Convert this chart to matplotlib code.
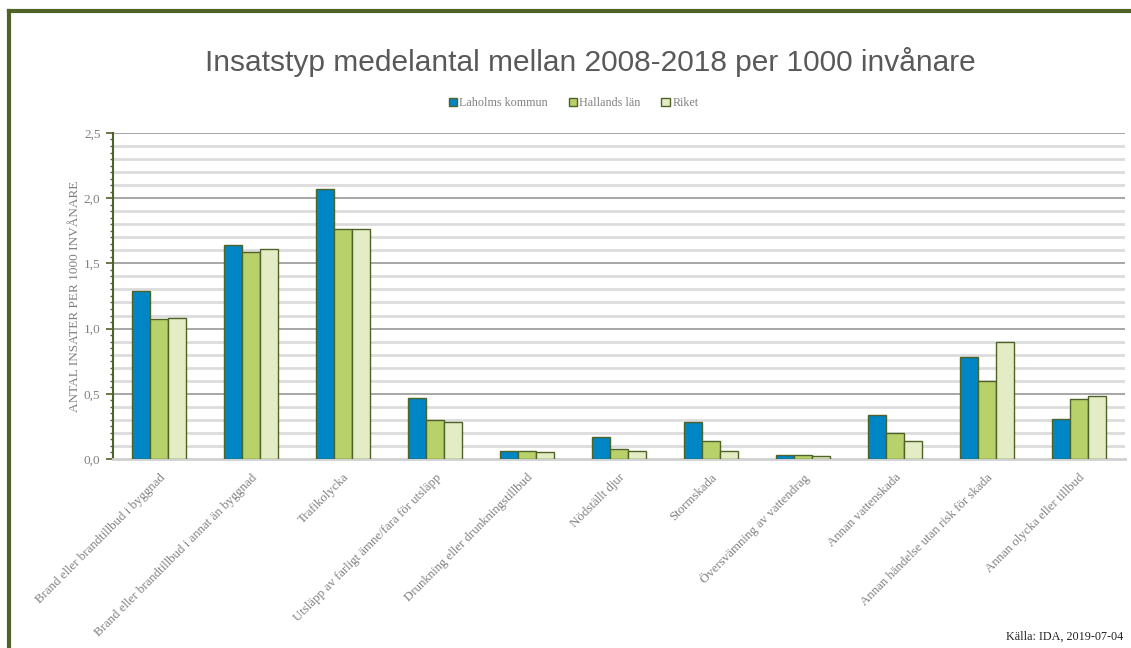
import matplotlib
matplotlib.use("Agg")
import matplotlib.pyplot as plt
import numpy as np
from matplotlib.ticker import MultipleLocator, FuncFormatter
from matplotlib.patches import Patch
from matplotlib.lines import Line2D

categories = [
    "Brand eller brandtillbud i byggnad",
    "Brand eller brandtillbud i annat än byggnad",
    "Trafikolycka",
    "Utsläpp av farligt ämne/fara för utsläpp",
    "Drunkning eller drunkningstillbud",
    "Nödställt djur",
    "Stormskada",
    "Översvämning av vattendrag",
    "Annan vattenskada",
    "Annan händelse utan risk för skada",
    "Annan olycka eller tillbud",
]
laholm = [1.29, 1.64, 2.07, 0.47, 0.06, 0.17, 0.28, 0.03, 0.34, 0.78, 0.31]
halland = [1.07, 1.59, 1.76, 0.30, 0.06, 0.08, 0.14, 0.03, 0.20, 0.60, 0.46]
riket = [1.08, 1.61, 1.76, 0.28, 0.05, 0.06, 0.06, 0.02, 0.14, 0.90, 0.48]
series_names = ["Laholms kommun", "Hallands län", "Riket"]

C_BLUE = "#0086C4"
C_GREEN = "#B8D16A"
C_LIGHT = "#E4ECC5"
C_EDGE = "#4F6228"
C_TEXT = "#808080"
SERIF = "Liberation Serif"

fig = plt.figure(figsize=(11.31, 6.48), dpi=100)
ax = fig.add_axes([0.0999, 0.2917, 0.8948, 0.5031])

x = np.arange(len(categories))
w = 0.195
for off, vals, col in zip((-w, 0, w), (laholm, halland, riket), (C_BLUE, C_GREEN, C_LIGHT)):
    ax.bar(x + off, vals, w, color=col, edgecolor=C_EDGE, linewidth=1.0, zorder=3)

ax.set_xlim(-0.5, len(categories) - 0.5)
ax.set_ylim(0, 2.5)

# rutnät: ljusa linjer var 0,1 och mörkare var 0,5
for yv in np.arange(0.1, 2.5, 0.1):
    if abs(yv * 2 - round(yv * 2)) < 1e-6:
        ax.axhline(yv, color="#A6A6A6", lw=1.4, zorder=1)
    else:
        ax.axhline(yv, color="#DCDCDC", lw=2.0, zorder=1)
ax.axhline(2.5, color="#A6A6A6", lw=1.4, zorder=1)

ax.yaxis.set_major_locator(MultipleLocator(0.5))
ax.yaxis.set_minor_locator(MultipleLocator(0.05))
ax.yaxis.set_major_formatter(FuncFormatter(lambda v, p: f"{v:.1f}".replace(".", ",")))
ax.tick_params(axis="y", which="major", direction="out", length=5, width=1.2,
               color=C_EDGE, labelsize=9.5, labelcolor=C_TEXT, pad=4)
ax.tick_params(axis="y", which="minor", direction="out", length=2.5, width=1.0,
               color=C_EDGE)
for lab in ax.get_yticklabels():
    lab.set_fontfamily(SERIF)

ax.set_xticks(x)
ax.set_xticklabels(categories, rotation=45, ha="right", rotation_mode="anchor",
                   fontsize=9.3, color=C_TEXT, family=SERIF)
ax.tick_params(axis="x", length=0, pad=9)

for s in ("top", "right"):
    ax.spines[s].set_visible(False)
ax.spines["left"].set_color(C_EDGE)
ax.spines["left"].set_linewidth(1.5)
ax.spines["bottom"].set_color("#D0D0D0")
ax.spines["bottom"].set_linewidth(2.0)

ax.set_ylabel("ANTAL INSATER PER 1000 INVÅNARE", fontsize=9.5, color=C_TEXT,
              family=SERIF, labelpad=2)

fig.text(0.522, 0.905, "Insatstyp medelantal mellan 2008-2018 per 1000 invånare",
         ha="center", va="center", fontsize=21.5, color="#595959",
         family="Liberation Sans")

handles = [Patch(facecolor=c, edgecolor=C_EDGE, linewidth=1.0)
           for c in (C_BLUE, C_GREEN, C_LIGHT)]
fig.legend(handles, series_names, loc="center", bbox_to_anchor=(0.507, 0.841),
           ncol=3, frameon=False, prop={"family": SERIF, "size": 8.7},
           labelcolor=C_TEXT, handlelength=0.7, handleheight=0.7,
           handletextpad=0.2, columnspacing=1.7)

fig.text(0.993, 0.018, "Källa: IDA, 2019-07-04", ha="right", va="center",
         fontsize=8.7, color="#222222", family=SERIF)

# ram runt diagrammet (vänster och överkant)
fig.add_artist(Line2D([0.008, 0.008], [0, 0.983], transform=fig.transFigure,
                      color=C_EDGE, lw=3))
fig.add_artist(Line2D([0.008, 1.0], [0.983, 0.983], transform=fig.transFigure,
                      color=C_EDGE, lw=3))

fig.savefig("out.png", dpi=100)
